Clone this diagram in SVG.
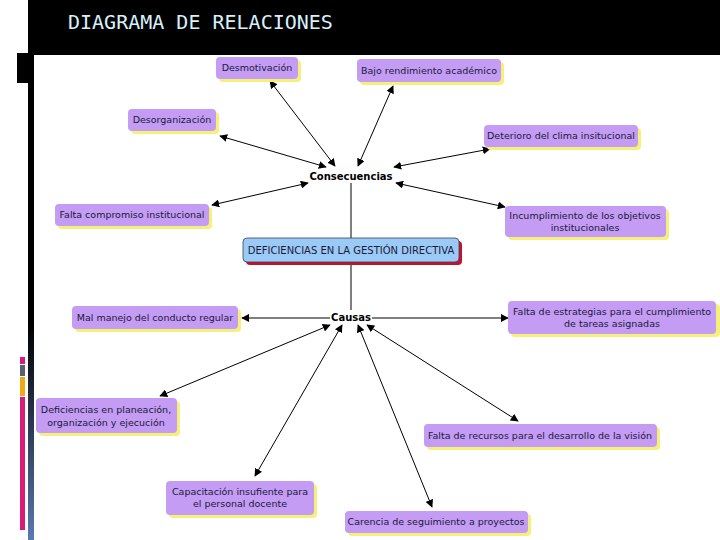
<svg xmlns="http://www.w3.org/2000/svg" width="720" height="540" viewBox="0 0 720 540">
<defs>
<marker id="ah" viewBox="0 0 10 10" refX="9" refY="5" markerWidth="8" markerHeight="8" orient="auto-start-reverse" markerUnits="userSpaceOnUse"><path d="M0,0 L10,5 L0,10 z" fill="#000"/></marker>
<linearGradient id="lg" x1="0" y1="0" x2="0" y2="1"><stop offset="0.6" stop-color="#000"/><stop offset="1" stop-color="#5a7ab0"/></linearGradient>
<style>
.n{fill:#c49cf4}
.s{fill:#f5f07a}
.t{font-family:"DejaVu Sans",Verdana,sans-serif;font-size:9.5px;fill:#1a1a3a;text-anchor:middle}
.b{font-family:"DejaVu Sans",Verdana,sans-serif;font-size:10px;font-weight:bold;fill:#000;text-anchor:middle}
.c line{stroke:#000;stroke-width:1}
</style>
</defs>
<rect width="720" height="540" fill="#fff"/>
<rect x="30" y="0" width="690" height="55" fill="#000"/>
<rect x="28" y="0" width="6" height="540" fill="url(#lg)"/>
<rect x="17" y="53" width="11" height="30" fill="#000"/>
<rect x="20" y="357" width="5" height="7" fill="#d81b78"/>
<rect x="20" y="365" width="5" height="11" fill="#5a6070"/>
<rect x="20" y="377" width="5" height="19" fill="#f0a818"/>
<rect x="20" y="397" width="5" height="133" fill="#d81b78"/>
<text x="68" y="29" font-family="DejaVu Sans Mono,monospace" font-size="20" fill="#d8f0fc">DIAGRAMA DE RELACIONES</text>
<g class="c">
<line x1="351" y1="183" x2="351" y2="238"/>
<line x1="351" y1="263" x2="351" y2="310"/>
<line x1="335" y1="166" x2="270" y2="81" marker-start="url(#ah)" marker-end="url(#ah)"/>
<line x1="358" y1="166" x2="393" y2="86" marker-start="url(#ah)" marker-end="url(#ah)"/>
<line x1="326" y1="167" x2="220" y2="136" marker-start="url(#ah)" marker-end="url(#ah)"/>
<line x1="394" y1="167" x2="490" y2="149" marker-start="url(#ah)" marker-end="url(#ah)"/>
<line x1="308" y1="183" x2="212" y2="205" marker-start="url(#ah)" marker-end="url(#ah)"/>
<line x1="396" y1="183" x2="505" y2="207" marker-start="url(#ah)" marker-end="url(#ah)"/>
<line x1="330" y1="318" x2="242" y2="318" marker-end="url(#ah)"/>
<line x1="372" y1="318" x2="508" y2="318" marker-end="url(#ah)"/>
<line x1="330" y1="325" x2="160" y2="396" marker-start="url(#ah)" marker-end="url(#ah)"/>
<line x1="342" y1="325" x2="255" y2="476" marker-start="url(#ah)" marker-end="url(#ah)"/>
<line x1="358" y1="325" x2="432" y2="507" marker-start="url(#ah)" marker-end="url(#ah)"/>
<line x1="367" y1="325" x2="518" y2="421" marker-start="url(#ah)" marker-end="url(#ah)"/>
</g>
<text class="b" x="351" y="180">Consecuencias</text>
<text class="b" x="351" y="321">Causas</text>
<g id="central"><rect x="246" y="241" width="216" height="24" rx="4" fill="#c8102e"/><rect x="243" y="238" width="216" height="24" rx="4" fill="#9ccaf6" stroke="#345" stroke-width="0.8"/><text class="t" x="351" y="254" style="font-size:10px">DEFICIENCIAS EN LA GESTIÓN DIRECTIVA</text></g>
<g id="n1"><rect class="s" x="219" y="60" width="82" height="22" rx="4"/><rect class="n" x="216" y="57" width="82" height="22" rx="4"/><text class="t" x="257" y="71">Desmotivación</text></g>
<g id="n2"><rect class="s" x="360" y="62" width="144" height="23" rx="4"/><rect class="n" x="357" y="59" width="144" height="23" rx="4"/><text class="t" x="429" y="74">Bajo rendimiento académico</text></g>
<g id="n3"><rect class="s" x="131" y="112" width="88" height="22" rx="4"/><rect class="n" x="128" y="109" width="88" height="22" rx="4"/><text class="t" x="172" y="123">Desorganización</text></g>
<g id="n4"><rect class="s" x="487" y="128" width="154" height="22" rx="4"/><rect class="n" x="484" y="125" width="154" height="22" rx="4"/><text class="t" x="561" y="139">Deterioro del clima insitucional</text></g>
<g id="n5"><rect class="s" x="58" y="207" width="154" height="22" rx="4"/><rect class="n" x="55" y="204" width="154" height="22" rx="4"/><text class="t" x="132" y="218">Falta compromiso institucional</text></g>
<g id="n6"><rect class="s" x="508" y="209" width="161" height="31" rx="4"/><rect class="n" x="505" y="206" width="161" height="31" rx="4"/><text class="t" x="585" y="219">Incumplimiento de los objetivos</text><text class="t" x="585" y="231">institucionales</text></g>
<g id="n7"><rect class="s" x="75" y="309" width="166" height="23" rx="4"/><rect class="n" x="72" y="306" width="166" height="23" rx="4"/><text class="t" x="155" y="321">Mal manejo del conducto regular</text></g>
<g id="n8"><rect class="s" x="511" y="304" width="209" height="33" rx="4"/><rect class="n" x="508" y="301" width="208" height="33" rx="4"/><text class="t" x="612" y="315">Falta de estrategias para el cumplimiento</text><text class="t" x="612" y="327">de tareas asignadas</text></g>
<g id="n9"><rect class="s" x="39" y="401" width="141" height="35" rx="4"/><rect class="n" x="36" y="398" width="141" height="35" rx="4"/><text class="t" x="106" y="413">Deficiencias en planeación,</text><text class="t" x="106" y="426">organización y ejecución</text></g>
<g id="n10"><rect class="s" x="427" y="427" width="233" height="23" rx="4"/><rect class="n" x="424" y="424" width="233" height="23" rx="4"/><text class="t" x="540" y="439">Falta de recursos para el desarrollo de la visión</text></g>
<g id="n11"><rect class="s" x="169" y="484" width="148" height="34" rx="4"/><rect class="n" x="166" y="481" width="148" height="34" rx="4"/><text class="t" x="240" y="495">Capacitación insufiente para</text><text class="t" x="240" y="507">el personal docente</text></g>
<g id="n12"><rect class="s" x="348" y="514" width="183" height="22" rx="4"/><rect class="n" x="345" y="511" width="183" height="22" rx="4"/><text class="t" x="436" y="525">Carencia de seguimiento a proyectos</text></g>
</svg>
